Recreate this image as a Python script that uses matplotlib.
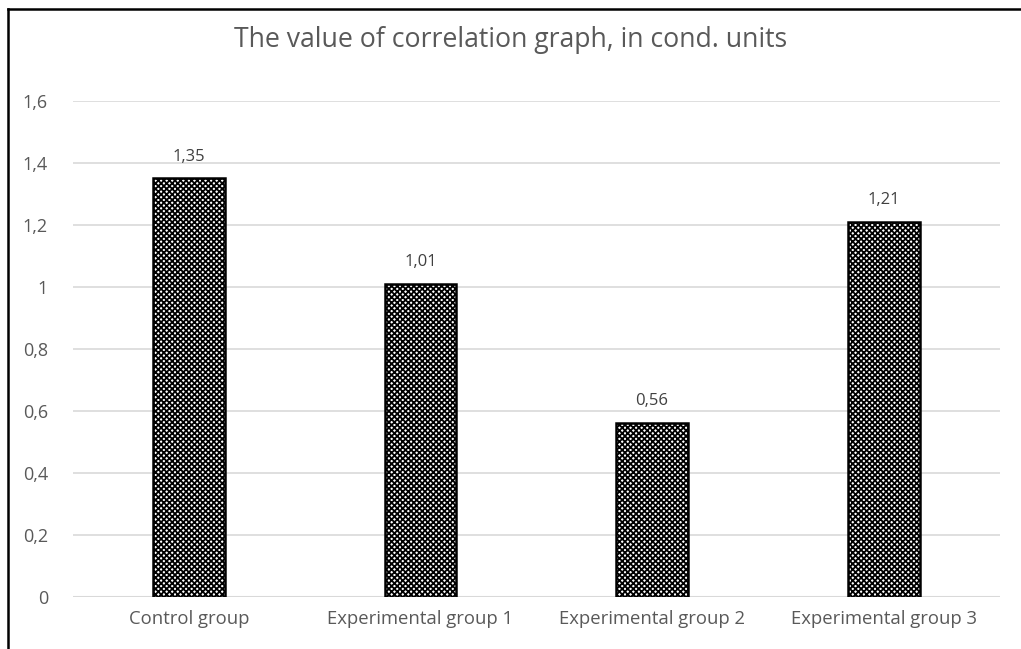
import matplotlib.pyplot as plt
from matplotlib.lines import Line2D

# data
groups = ['Control group', 'Experimental group 1', 'Experimental group 2', 'Experimental group 3']
values = [1.35, 1.01, 0.56, 1.21]
yticks = [0, 0.2, 0.4, 0.6, 0.8, 1, 1.2, 1.4, 1.6]
ylabels = ['0', '0,2', '0,4', '0,6', '0,8', '1', '1,2', '1,4', '1,6']

plt.rcParams['font.family'] = ['Open Sans', 'DejaVu Sans']
plt.rcParams['hatch.linewidth'] = 1.3

fig = plt.figure(figsize=(10.21, 6.49), dpi=100)
ax = fig.add_axes([0.0715, 0.0801, 0.9075, 0.7643])

x = range(len(groups))
bars = ax.bar(x, values, width=0.31, facecolor='white', edgecolor='black',
              hatch='xxxxxx', linewidth=1.8, zorder=3)

for xi, v in zip(x, values):
    ax.text(xi, v + 0.045, '{:.2f}'.format(v).replace('.', ','), ha='center', va='bottom',
            fontsize=12, color='#404040')

ax.set_xlim(-0.5, 3.5)
ax.set_ylim(0, 1.6)
ax.set_yticks(yticks)
ax.set_yticklabels(ylabels)
ax.set_xticks(list(x))
ax.set_xticklabels(groups)
ax.tick_params(axis='both', length=0, labelsize=13, colors='#595959')
ax.tick_params(axis='x', labelsize=13.3, pad=9)
ax.tick_params(axis='y', pad=18)
ax.yaxis.grid(True, color='#d9d9d9', linewidth=1.2, zorder=0)
for s in ax.spines.values():
    s.set_visible(False)
ax.axhline(0, color='#d9d9d9', linewidth=1.5, zorder=1)

fig.text(0.5, 1 - 40 / 649, 'The value of correlation graph, in cond. units',
         ha='center', va='center', fontsize=19.2, color='#595959')

# outer frame (left and top edges)
fig.add_artist(Line2D([8 / 1021, 8 / 1021], [0, 1 - 9 / 649], color='black', linewidth=1.8))
fig.add_artist(Line2D([8 / 1021, 1], [1 - 9 / 649, 1 - 9 / 649], color='black', linewidth=1.8))

fig.savefig('out.png', dpi=100)
